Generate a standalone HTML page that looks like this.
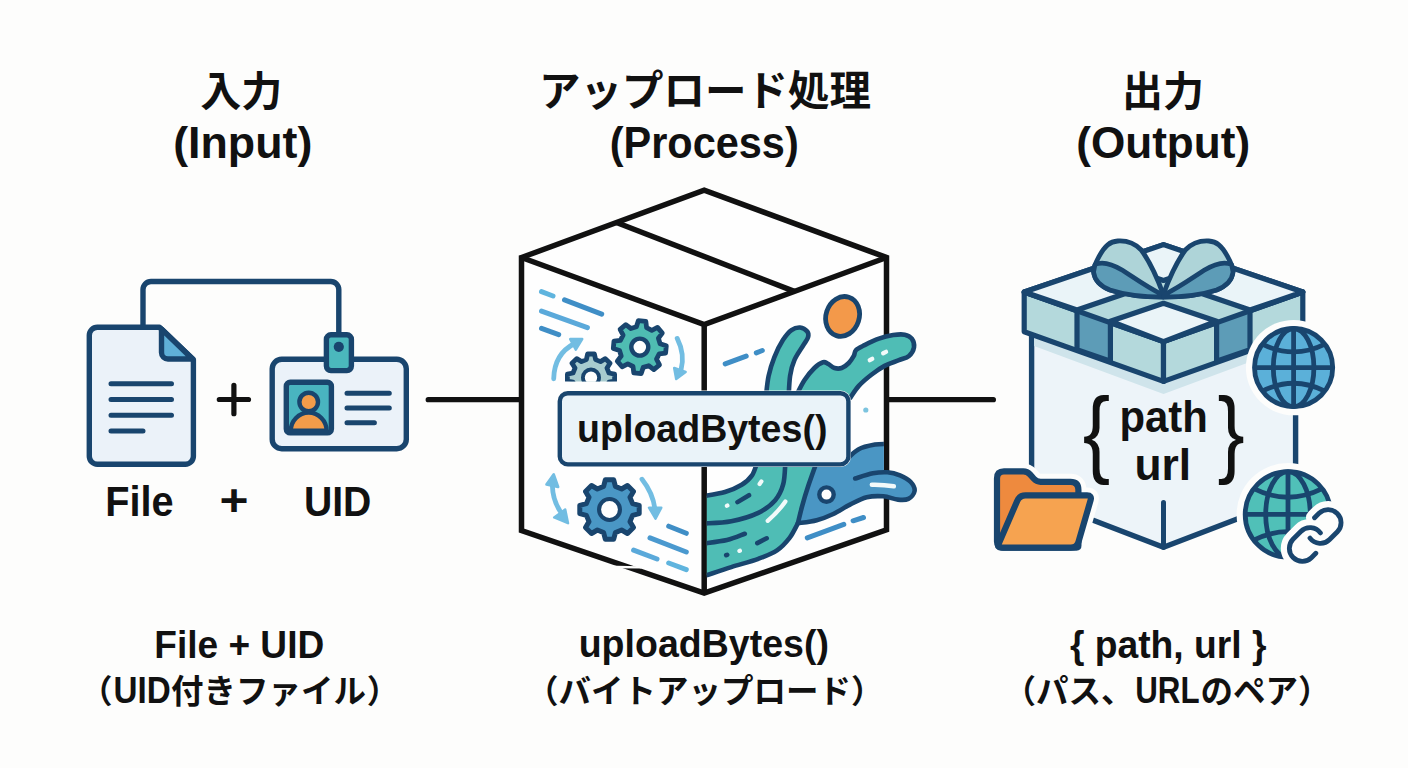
<!DOCTYPE html>
<html lang="ja">
<head>
<meta charset="utf-8">
<title>uploadBytes flow</title>
<style>
html,body{margin:0;padding:0;background:#fdfdfc;}
body{width:1408px;height:768px;overflow:hidden;font-family:"Liberation Sans","Noto Sans CJK JP",sans-serif;}
svg{display:block}
svg text{font-family:"Liberation Sans","Noto Sans CJK JP",sans-serif;font-weight:700;fill:#111}
</style>
</head>
<body>
<svg width="1408" height="768" viewBox="0 0 1408 768">
<rect width="1408" height="768" fill="#fdfdfc"/>
<g fill="none" stroke="#19456e" stroke-width="5.4" stroke-linecap="round" stroke-linejoin="round">
<path d="M143,326 V289.5 a8,8 0 0 1 8,-8 H330.8 a8,8 0 0 1 8,8 V334"/>
<path d="M97.3,327.2 H159.5 L193.4,359.5 V456.2 a8,8 0 0 1 -8,8 H97.3 a8,8 0 0 1 -8,-8 V335.2 a8,8 0 0 1 8,-8 Z" fill="#ebf2f9"/>
<path d="M161.5,329 V352.5 a6.5,6.5 0 0 0 6.5,6.5 H192.5 Z" fill="#5fb0d8"/>
<path d="M111,383.8 H171.5 M111,399.5 H171.5 M111,415.3 H171.5 M111,431 H143" stroke-width="5"/>
<rect x="272.2" y="359.3" width="134.1" height="89.4" rx="9.5" fill="#ebf2f9"/>
<rect x="326.4" y="334.8" width="25" height="35.8" rx="4.5" fill="#4bb8bd"/>
<circle cx="338.8" cy="346.8" r="5.1" fill="#19456e" stroke="none"/>
<rect x="286.3" y="382.3" width="45.1" height="50.6" rx="4" fill="#49b4c0"/>
<path d="M290.8,430.8 a17.9,18.2 0 0 1 35.8,0 Z" fill="#f39c4a" stroke-width="4.4"/>
<circle cx="308.7" cy="402" r="9.3" fill="#f39c4a" stroke-width="4.4"/>
<path d="M347,393.2 H389.3 M347,408.1 H389.3 M347,422.8 H374.4" stroke-width="5"/>
</g>
<path d="M219.3,399.5 H248.5 M233.9,385.4 V413.7" stroke="#111111" stroke-width="5.2" stroke-linecap="round" fill="none"/>
<path d="M428.2,399.7 H520 M888,399.7 H993.4" stroke="#111111" stroke-width="5.2" stroke-linecap="round" fill="none"/>
<defs><clipPath id="rf"><path d="M706.8,324.6 L883.9,257.5 L883.9,526.8 L706.8,590.2 Z"/></clipPath>
<clipPath id="g2c"><rect x="560" y="340" width="80" height="41.5"/></clipPath></defs>
<path d="M521.5,257.5 L704.2,190.2 L886.5,257.5 L886.5,529.8 L704.2,593.2 L521.5,530.6 Z" fill="#fefefe"/>
<g fill="none" stroke-linecap="round" stroke-width="5">
<path d="M541.5,291.7 L553,296" stroke="#5fb4de"/>
<path d="M564.5,299.8 L601.7,314.1" stroke="#3f8ec6"/>
<path d="M541.5,311.2 L587.4,327.6" stroke="#5aa9da"/>
<path d="M541.5,328.4 L558.7,334.7" stroke="#3f8ec6"/>
<path d="M668.7,526.2 L686.3,533.3" stroke="#3f8ec6"/>
<path d="M650,537.9 L686.3,552" stroke="#4a99cf"/>
<path d="M633.6,550.1 L657,559" stroke="#5aa9da"/>
<path d="M668.7,563 L686.3,569.6" stroke="#5fb4de"/>
</g>
<g fill="none" stroke="#72bde2" stroke-width="4.8" stroke-linecap="round" stroke-linejoin="round">
<path d="M553.7,378.8 C554,362 562,350 574.5,343.5"/>
<path d="M570.2,339.1 L582.2,339.1 L575.8,349.6 Z" fill="#72bde2" stroke-width="2.5"/>
<path d="M677.2,338.4 C682.5,349 684,359 681,370"/>
<path d="M674.2,368 L685.6,372 L676.2,379 Z" fill="#72bde2" stroke-width="2.5"/>
<path d="M552.4,486 C552.6,496 555.5,504 560,511"/>
<path d="M546.4,484.5 L553.7,474.2 L558.2,487 Z" fill="#72bde2" stroke-width="2.5"/>
<path d="M554.2,517.4 L568,523.2 L565.2,509.4 Z" fill="#72bde2" stroke-width="2.5"/>
<path d="M642,479.2 C649,488 653.5,498 655,509"/>
<path d="M649,507.7 L661.3,507.7 L655.5,518.6 Z" fill="#72bde2" stroke-width="2.5"/>
</g>
<g clip-path="url(#g2c)"><path d="M609.0,373.0 L614.6,374.2 L614.6,381.0 L609.0,382.2 L607.0,387.1 L610.0,391.9 L605.3,396.6 L600.5,393.6 L595.6,395.6 L594.4,401.2 L587.6,401.2 L586.4,395.6 L581.5,393.6 L576.7,396.6 L572.0,391.9 L575.0,387.1 L573.0,382.2 L567.4,381.0 L567.4,374.2 L573.0,373.0 L575.0,368.1 L572.0,363.3 L576.7,358.6 L581.5,361.6 L586.4,359.6 L587.6,354.0 L594.4,354.0 L595.6,359.6 L600.5,361.6 L605.3,358.6 L610.0,363.3 L607.0,368.1Z" fill="#a8cccf" stroke="#19456e" stroke-width="4.8" stroke-linejoin="round"/><circle cx="591" cy="377.6" r="8.1" fill="#fefefe" stroke="#19456e" stroke-width="3.8"/></g>
<g ><path d="M660.1,343.7 L666.3,345.7 L665.6,353.1 L659.2,353.9 L656.5,359.1 L659.5,364.8 L653.8,369.6 L648.7,365.7 L643.2,367.4 L641.2,373.6 L633.8,372.9 L633.0,366.5 L627.8,363.8 L622.1,366.8 L617.3,361.1 L621.2,356.0 L619.5,350.5 L613.3,348.5 L614.0,341.1 L620.4,340.3 L623.1,335.1 L620.1,329.4 L625.8,324.6 L630.9,328.5 L636.4,326.8 L638.4,320.6 L645.8,321.3 L646.6,327.7 L651.8,330.4 L657.5,327.4 L662.3,333.1 L658.4,338.2Z" fill="#4fbcb2" stroke="#19456e" stroke-width="4.8" stroke-linejoin="round"/><circle cx="639.8" cy="347.1" r="8.5" fill="#fefefe" stroke="#19456e" stroke-width="4.4"/></g>
<g ><path d="M632.6,503.6 L639.2,505.3 L639.2,513.7 L632.6,515.4 L630.0,521.6 L633.5,527.5 L627.5,533.5 L621.6,530.0 L615.4,532.6 L613.7,539.2 L605.3,539.2 L603.6,532.6 L597.4,530.0 L591.5,533.5 L585.5,527.5 L589.0,521.6 L586.4,515.4 L579.8,513.7 L579.8,505.3 L586.4,503.6 L589.0,497.4 L585.5,491.5 L591.5,485.5 L597.4,489.0 L603.6,486.4 L605.3,479.8 L613.7,479.8 L615.4,486.4 L621.6,489.0 L627.5,485.5 L633.5,491.5 L630.0,497.4Z" fill="#4a97c5" stroke="#19456e" stroke-width="5" stroke-linejoin="round"/><circle cx="609.5" cy="509.5" r="10.45" fill="#fefefe" stroke="#19456e" stroke-width="4.1"/></g>
<g fill="none" stroke="#111111" stroke-width="5.5" stroke-linejoin="miter" stroke-linecap="butt">
<path d="M521.5,257.5 L704.2,190.2 L886.5,257.5 L886.5,529.8 L704.2,593.2 L521.5,530.6 Z"/>
<path d="M521.5,257.5 L704.2,324.6 L886.5,257.5 M704.2,324.6 V593.2"/>
<path d="M616.5,222.5 L794.3,291.4"/>
</g>
<g clip-path="url(#rf)">
<path d="M703.0,496.2 C706.7,495.5 718.5,493.9 725.0,492.0 C731.5,490.1 737.2,487.6 741.7,484.8 C746.2,482.0 749.4,479.2 752.0,475.4 C754.6,471.6 756.4,464.2 757.3,462.0 L816.7,462  C815.3,466.0 810.8,478.4 808.3,485.8 C805.8,493.2 803.7,500.4 802.0,506.7 C800.3,512.9 798.6,520.5 797.9,523.3  C796.5,525.7 793.1,533.4 789.6,537.9 C786.1,542.4 782.2,546.9 777.0,550.4 C771.8,553.9 765.9,556.0 758.3,558.8 C750.7,561.6 740.5,564.2 731.3,567.1 C722.1,570.0 707.7,574.9 703.0,576.4 Z" fill="#4fbdb5"/>
<path d="M816.7,462 L845,461  C847.2,459.1 853.3,452.1 858.3,449.4 C863.3,446.7 870.0,445.5 875.0,444.6 C880.0,443.7 885.8,444.1 888.0,444.0 L888,473 L866,497.5  C863.9,498.5 855.6,501.8 850.0,504.6 C844.4,507.4 838.8,511.4 833.3,514.0 C827.8,516.6 822.6,518.7 816.7,520.2 C810.8,521.8 801.0,522.8 797.9,523.3  C798.6,520.5 800.3,512.9 802.0,506.7 C803.7,500.4 805.8,493.2 808.3,485.8 C810.8,478.4 815.3,466.0 816.7,462.0 Z" fill="#4a96c4"/>
</g>
<path d="M855.2,478.5 C858.2,477.6 867.5,474.3 872.9,473.3 C878.3,472.3 883.0,472.0 887.5,472.3 C892.0,472.6 896.2,473.8 900.0,475.4 C903.8,477.0 908.1,479.2 910.5,481.8 C912.9,484.4 915.0,488.1 914.6,491.0 C914.2,493.9 911.1,497.5 908.3,498.9 C905.5,500.3 902.1,500.0 897.9,499.6 C893.7,499.2 888.5,496.7 883.3,496.3 C878.1,495.9 872.2,495.9 866.7,497.3 C861.2,498.7 852.8,503.4 850.0,504.6" fill="#4a96c4"/>
<g fill="none" stroke="#19456e" stroke-width="4.6" stroke-linecap="round" stroke-linejoin="round">
<path d="M855.2,478.5 C858.2,477.6 867.5,474.3 872.9,473.3 C878.3,472.3 883.0,472.0 887.5,472.3 C892.0,472.6 896.2,473.8 900.0,475.4 C903.8,477.0 908.1,479.2 910.5,481.8 C912.9,484.4 915.0,488.1 914.6,491.0 C914.2,493.9 911.1,497.5 908.3,498.9 C905.5,500.3 902.1,500.0 897.9,499.6 C893.7,499.2 888.5,496.7 883.3,496.3 C878.1,495.9 872.2,495.9 866.7,497.3 C861.2,498.7 855.6,501.8 850.0,504.6 C844.4,507.4 838.8,511.4 833.3,514.0 C827.8,516.6 822.6,518.7 816.7,520.2 C810.8,521.8 801.0,522.8 797.9,523.3"/>
<g clip-path="url(#rf)">
<path d="M703.0,496.2 C706.7,495.5 718.5,493.9 725.0,492.0 C731.5,490.1 737.2,487.6 741.7,484.8 C746.2,482.0 749.4,479.2 752.0,475.4 C754.6,471.6 756.4,464.2 757.3,462.0"/><path d="M703.0,523.6 C707.7,523.2 722.1,523.1 731.3,521.3 C740.5,519.5 751.0,516.4 758.3,512.9 C765.6,509.4 770.8,505.2 775.0,500.4 C779.2,495.5 781.6,490.2 783.3,483.8 C785.0,477.4 785.0,465.6 785.4,462.0"/><path d="M703.0,543.6 C707.0,543.0 720.0,541.6 727.0,540.0 C734.0,538.4 741.8,534.8 744.8,533.8"/><path d="M703.0,576.4 C707.7,574.9 722.1,570.0 731.3,567.1 C740.5,564.2 750.7,561.6 758.3,558.8 C765.9,556.0 771.8,553.9 777.0,550.4 C782.2,546.9 786.1,542.4 789.6,537.9 C793.1,533.4 796.5,525.7 797.9,523.3"/><path d="M797.9,523.3 C798.6,520.5 800.3,512.9 802.0,506.7 C803.7,500.4 805.8,493.2 808.3,485.8 C810.8,478.4 815.3,466.0 816.7,462.0"/><path d="M845.0,461.0 C847.2,459.1 853.3,452.1 858.3,449.4 C863.3,446.7 870.0,445.5 875.0,444.6 C880.0,443.7 885.8,444.1 888.0,444.0"/>
<path d="M737.5,502.1 L749,495.2 M757.3,543.1 L766.7,538.3 M726.2,555.2 L727.2,554.8"/>
</g></g>
<g fill="none" stroke="#f2fafa" stroke-width="4.2" stroke-linecap="round">
<path d="M767.7,520.8 C775,514.5 781,508 785.4,501.5"/>
<path d="M759.6,484 L761.4,481.4 M726.9,505.8 L727.4,505.5 M739.4,550.9 L739.9,550.7"/>
<path d="M871.9,484.8 C880,484.6 887,485.2 893.8,486.3" stroke-width="4.6"/>
</g>
<circle cx="826.5" cy="494.6" r="7.2" fill="#fefefe" stroke="#19456e" stroke-width="4.4"/>
<path d="M807.3,537.9 L843.8,524.4 M853.1,520.8 L863.5,517.5" stroke="#3f8ec6" stroke-width="5" stroke-linecap="round" fill="none"/>
<path d="M725.2,363.8 L746.2,356.1 M756.3,352.8 L762.3,350.5" stroke="#3f8ec6" stroke-width="5" stroke-linecap="round" fill="none"/>
<ellipse cx="842.6" cy="316.4" rx="16.6" ry="20.2" transform="rotate(18 842.6 316.4)" fill="#f3994a" stroke="#19456e" stroke-width="4.8"/>
<circle cx="865.8" cy="410" r="2.6" fill="#7cc4df"/>
<path d="M766.0,396.0 C766.4,392.6 767.2,382.3 768.6,375.9 C770.0,369.4 771.9,363.3 774.3,357.3 C776.7,351.3 780.0,344.6 782.9,340.1 C785.8,335.6 788.6,332.2 791.5,330.1 C794.4,328.0 797.5,327.3 800.1,327.5 C802.7,327.7 806.0,329.9 807.3,331.5 C808.6,333.1 808.7,334.9 808.0,337.3 C807.3,339.7 805.3,342.0 803.0,345.8 C800.7,349.6 796.5,355.2 794.4,360.2 C792.2,365.2 791.0,369.9 790.1,375.9 C789.2,381.9 788.9,392.6 788.7,396.0 Z" fill="#4fbdb5" stroke="#19456e" stroke-width="4.6" stroke-linejoin="round"/>
<path d="M796.0,396.0 C797.4,393.4 801.3,384.9 804.4,380.2 C807.5,375.5 811.3,371.0 814.4,368.0 C817.5,365.0 820.7,363.0 823.0,362.3 C825.3,361.6 826.1,362.9 828.0,363.8 C829.9,364.8 832.2,367.3 834.5,368.0 C836.8,368.7 839.3,368.8 841.7,368.0 C844.1,367.2 846.8,365.0 848.8,363.0 C850.8,361.0 852.6,358.0 853.8,355.9 C855.0,353.8 854.2,351.9 856.0,350.1 C857.8,348.3 860.8,347.0 864.6,345.1 C868.4,343.2 874.1,340.4 878.9,338.7 C883.7,337.0 888.9,335.8 893.2,335.1 C897.5,334.4 901.6,334.1 904.7,334.7 C907.8,335.3 910.2,336.6 911.8,338.7 C913.3,340.8 914.5,344.4 914.0,347.3 C913.5,350.2 911.5,353.8 909.0,355.9 C906.5,358.0 903.0,358.5 898.9,360.2 C894.8,361.9 889.1,363.5 884.6,365.9 C880.1,368.3 876.0,371.2 871.7,374.5 C867.4,377.8 862.4,382.0 858.8,385.9 C855.2,389.8 851.6,396.0 850.2,398.0 Z" fill="#4fbdb5" stroke="#19456e" stroke-width="4.6" stroke-linejoin="round"/>
<path d="M869.8,360.2 L872.2,358.8 M883.2,353.3 L886,351.9" stroke="#f2fafa" stroke-width="4.4" stroke-linecap="round" fill="none"/>
<path d="M605.5,565.6 L640,566.2 L641.5,568.4 L611,568.2 Z" fill="#fdfdfc"/>
<rect x="557.2" y="390.6" width="293.6" height="76.4" rx="10" fill="#fdfdfc"/>
<rect x="559.8" y="393.2" width="288.6" height="71.2" rx="8" fill="#eaf3f9" stroke="#19456e" stroke-width="4.4"/>
<path d="M1031.6,325.0 L1031.6,496.6 L1163.5,547.3 L1295.6,496.6 L1295.6,325.0 Z" fill="#edf4f9" stroke="#19456e" stroke-width="5.4" stroke-linejoin="round"/>
<path d="M1034.1,333.0 L1163.5,381.0 L1293.1,333.0 L1293.1,346.0 L1163.5,394.0 L1034.1,346.0 Z" fill="#cfe4eb"/>
<path d="M1163.5,502.6 V547.3" stroke="#19456e" stroke-width="5" stroke-linecap="round" fill="none"/>
<g stroke="#19456e" stroke-width="5.2" stroke-linejoin="round">
<path d="M1024.2,292.0 L1163.5,341.6 L1163.5,381.4 L1024.2,331.8 Z" fill="#b4d9dc"/>
<path d="M1163.5,341.6 L1302.8,292.0 L1302.8,331.8 L1163.5,381.4 Z" fill="#b4d9dc"/>
<path d="M1077.0,310.0 L1110.4,321.3 L1110.4,361.1 L1077.0,349.8 Z" fill="#5d9cb7"/>
<path d="M1250.0,310.0 L1216.6,321.3 L1216.6,361.1 L1250.0,349.8 Z" fill="#5d9cb7"/>
<path d="M1024.2,292.0 L1163.5,244.6 L1302.8,292.0 L1163.5,341.6 Z" fill="#b4d9dc"/>
<path d="M1024.2,292.0 L1093.8,268.3 L1146.6,286.3 L1077.0,310.0 Z" fill="#eaf4f8"/>
<path d="M1302.8,292.0 L1233.2,268.3 L1180.4,286.3 L1250.0,310.0 Z" fill="#eaf4f8"/>
<path d="M1163.5,244.6 L1110.7,262.6 L1163.5,280.5 L1216.3,262.6 Z" fill="#eaf4f8"/>
<path d="M1163.5,341.6 L1110.4,321.3 L1163.5,303.3 L1216.6,321.3 Z" fill="#eaf4f8"/>
</g>
<g><path d="M1163.1,294 C1158,280 1150,262 1141.3,250 C1134,242.5 1126,240.5 1117.8,241 C1110,241.5 1105,245.5 1099.1,256.3 C1096,262 1093,268 1093.6,272 C1094.5,280 1100,286 1110,290 C1125,295 1145,297 1163.1,297 Z" fill="#aed4d8" stroke="#19456e" stroke-width="4.8" stroke-linejoin="round"/><path d="M1095,264.5 C1103,261 1113,264.5 1122.5,270.3 C1133,277 1147,287 1161,294 L1163,297 C1145,297 1125,295 1110,290 C1100,286 1094.5,280 1093.6,272 Z" fill="#5d9cb7" stroke="#19456e" stroke-width="4.6" stroke-linejoin="round"/></g>
<g transform="translate(2326.6,0) scale(-1,1)"><path d="M1163.1,294 C1158,280 1150,262 1141.3,250 C1134,242.5 1126,240.5 1117.8,241 C1110,241.5 1105,245.5 1099.1,256.3 C1096,262 1093,268 1093.6,272 C1094.5,280 1100,286 1110,290 C1125,295 1145,297 1163.1,297 Z" fill="#aed4d8" stroke="#19456e" stroke-width="4.8" stroke-linejoin="round"/><path d="M1095,264.5 C1103,261 1113,264.5 1122.5,270.3 C1133,277 1147,287 1161,294 L1163,297 C1145,297 1125,295 1110,290 C1100,286 1094.5,280 1093.6,272 Z" fill="#5d9cb7" stroke="#19456e" stroke-width="4.6" stroke-linejoin="round"/></g>
<circle cx="1293.6" cy="367.6" r="47.7" fill="#fdfdfc"/><g fill="none" stroke="#19456e" stroke-width="4.8"><circle cx="1293.6" cy="367.6" r="39.1" fill="#5bb0d9"/><ellipse cx="1293.6" cy="367.6" rx="20.3" ry="39.1"/><path d="M1293.6,328.5 V406.7 M1254.5,367.6 H1332.7"/><path d="M1262.3,344.1 Q1293.6,359.8 1324.9,344.1"/><path d="M1262.3,391.1 Q1293.6,375.4 1324.9,391.1"/></g>
<circle cx="1288" cy="514.4" r="51.4" fill="#fdfdfc"/><g fill="none" stroke="#19456e" stroke-width="4.8"><circle cx="1288" cy="514.4" r="42.8" fill="#50c0b8"/><ellipse cx="1288" cy="514.4" rx="22.3" ry="42.8"/><path d="M1288,471.6 V557.2 M1245.2,514.4 H1330.8"/><path d="M1253.8,488.7 Q1288,505.8 1322.2,488.7"/><path d="M1253.8,540.1 Q1288,523.0 1322.2,540.1"/></g>
<g transform="translate(1284,504.3) scale(2.6)" stroke-linecap="round" stroke-linejoin="round">
<path d="M10 13a5 5 0 0 0 7.54.54l3-3a5 5 0 0 0-7.07-7.07l-1.72 1.71M14 11a5 5 0 0 0-7.54-.54l-3 3a5 5 0 0 0 7.07 7.07l1.71-1.71" fill="#fdfdfc" stroke="#fdfdfc" stroke-width="6.6"/>
<path d="M10 13a5 5 0 0 0 7.54.54l3-3a5 5 0 0 0-7.07-7.07l-1.72 1.71M14 11a5 5 0 0 0-7.54-.54l-3 3a5 5 0 0 0 7.07 7.07l1.71-1.71" fill="none" stroke="#19456e" stroke-width="1.85"/>
</g>
<path d="M1003.0,547.6 Q997.0,547.6 997.0,541.6 L997.0,478.4 Q997.0,471.4 1004.0,471.4 L1023.3,471.4 Q1027.3,471.4 1030.0,474.4 L1033.9,478.8 Q1036.6,481.8 1040.6,481.8 L1070.4,481.8 Q1078.4,481.8 1078.4,489.8 L1078.4,545.6 Q1078.4,547.6 1076.4,547.6 Z" fill="none" stroke="#fdfdfc" stroke-width="16" stroke-linejoin="round"/>
<path d="M1001.0,547.6 Q997.0,547.6 998.6,543.9 L1017.2,500.9 Q1019.6,495.4 1025.6,495.4 L1087.0,495.4 Q1092.0,495.4 1090.6,500.2 L1078.5,541.8 Q1076.8,547.6 1070.8,547.6 Z" fill="none" stroke="#fdfdfc" stroke-width="16" stroke-linejoin="round"/>
<path d="M1003.0,547.6 Q997.0,547.6 997.0,541.6 L997.0,478.4 Q997.0,471.4 1004.0,471.4 L1023.3,471.4 Q1027.3,471.4 1030.0,474.4 L1033.9,478.8 Q1036.6,481.8 1040.6,481.8 L1070.4,481.8 Q1078.4,481.8 1078.4,489.8 L1078.4,545.6 Q1078.4,547.6 1076.4,547.6 Z" fill="#ee8a3e" stroke="#19456e" stroke-width="6.2" stroke-linejoin="round"/>
<path d="M1001.0,547.6 Q997.0,547.6 998.6,543.9 L1017.2,500.9 Q1019.6,495.4 1025.6,495.4 L1087.0,495.4 Q1092.0,495.4 1090.6,500.2 L1078.5,541.8 Q1076.8,547.6 1070.8,547.6 Z" fill="#f6a350" stroke="#19456e" stroke-width="6.2" stroke-linejoin="round"/>
<g class="t">
<g>
<text x="200.3" y="105.5" font-size="41" textLength="82" lengthAdjust="spacingAndGlyphs">入力</text>
</g>
<text x="173.2" y="158.3" font-size="45.0" textLength="139.1" lengthAdjust="spacingAndGlyphs">(Input)</text>
<g>
<text x="539" y="105.5" font-size="41.5" textLength="332" lengthAdjust="spacingAndGlyphs">アップロード処理</text>
</g>
<text x="609.7" y="158.2" font-size="45.0" textLength="189.0" lengthAdjust="spacingAndGlyphs">(Process)</text>
<g>
<text x="1122" y="105.5" font-size="41" textLength="82" lengthAdjust="spacingAndGlyphs">出力</text>
</g>
<text x="1076.2" y="158.3" font-size="45.0" textLength="174.0" lengthAdjust="spacingAndGlyphs">(Output)</text>
<text x="105.3" y="515.6" font-size="42.0" textLength="68.3" lengthAdjust="spacingAndGlyphs">File</text>
<text x="219.6" y="515.8" font-size="45.2" textLength="29.0" lengthAdjust="spacingAndGlyphs">+</text>
<text x="303.9" y="515.6" font-size="42.0" textLength="67.5" lengthAdjust="spacingAndGlyphs">UID</text>
<text x="577.1" y="441.5" font-size="38.8" textLength="250.3" lengthAdjust="spacingAndGlyphs">uploadBytes()</text>
<text x="1119.5" y="432.3" font-size="44.2" textLength="88.4" lengthAdjust="spacingAndGlyphs">path</text>
<text x="1134.5" y="479.5" font-size="44.2" textLength="56.7" lengthAdjust="spacingAndGlyphs">url</text>
<text transform="translate(1082.63,465.27) scale(0.8239,0.9602)" font-size="100" style="font-weight:400">{</text>
<text transform="translate(1217.55,465.27) scale(0.8152,0.9602)" font-size="100" style="font-weight:400">}</text>
<text x="154.3" y="657.7" font-size="39.0" textLength="169.9" lengthAdjust="spacingAndGlyphs">File + UID</text>
<g>
<text x="80" y="703" font-size="32.5">（</text>
<text x="113.5" y="703.2" font-size="36.1" textLength="57.2" lengthAdjust="spacingAndGlyphs">UID</text>
<text x="171" y="703" font-size="32.5" textLength="195" lengthAdjust="spacingAndGlyphs">付きファイル</text>
<text x="366.8" y="703" font-size="32.5">）</text>
</g>
<text x="578.7" y="657.2" font-size="38.8" textLength="250.2" lengthAdjust="spacingAndGlyphs">uploadBytes()</text>
<g>
<text x="526" y="702.5" font-size="32.5" textLength="357.5" lengthAdjust="spacingAndGlyphs">（バイトアップロード）</text>
</g>
<text x="1069.9" y="657.7" font-size="38.8" textLength="196.6" lengthAdjust="spacingAndGlyphs">{ path, url }</text>
<g>
<text x="1003.6" y="703.4" font-size="32.5">（</text>
<text x="1036" y="703.4" font-size="32.5" textLength="97.5" lengthAdjust="spacingAndGlyphs">パス、</text>
<text x="1135.2" y="703.4" font-size="36.1" textLength="64.4" lengthAdjust="spacingAndGlyphs">URL</text>
<text x="1200.5" y="703.4" font-size="32.5" textLength="97.5" lengthAdjust="spacingAndGlyphs">のペア</text>
<text x="1298" y="703.4" font-size="32.5">）</text>
</g>
</g>
</svg>
</body>
</html>
